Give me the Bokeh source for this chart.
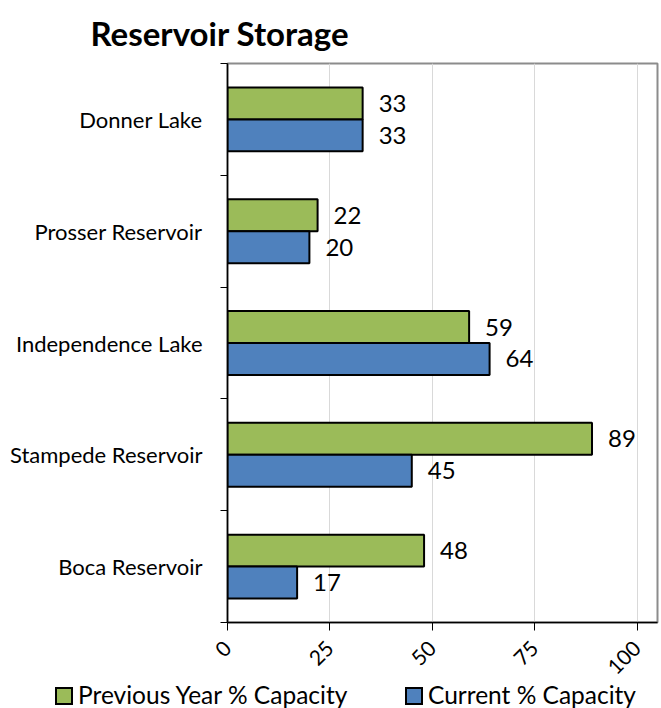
import math

from bokeh.core.properties import value
from bokeh.embed import file_html
from bokeh.layouts import column
from bokeh.models import (ColumnDataSource, Div, FixedTicker, LabelSet,
                          Range1d)
from bokeh.plotting import figure
from bokeh.resources import INLINE

# Reservoirs listed bottom to top
reservoirs = ["Boca Reservoir", "Stampede Reservoir", "Independence Lake",
              "Prosser Reservoir", "Donner Lake"]
previous_year = [48, 89, 59, 22, 33]
current = [17, 45, 64, 20, 33]
x_ticks = [0, 25, 50, 75, 100]
series_names = ["Previous Year % Capacity", "Current % Capacity"]

FONT = "Lato"
GREEN = "#9BBB59"
BLUE = "#4F81BD"
BAR_H = 0.286

slot = [i + 0.5 for i in range(len(reservoirs))]
src = ColumnDataSource(dict(
    y_prev=[s + BAR_H / 2 for s in slot],
    y_cur=[s - BAR_H / 2 for s in slot],
    prev=previous_year,
    cur=current,
    prev_txt=[str(v) for v in previous_year],
    cur_txt=[str(v) for v in current],
))

p = figure(width=661, height=684, output_backend="svg", toolbar_location=None,
           x_range=Range1d(0, 105), y_range=Range1d(0, len(reservoirs)),
           min_border_left=227, min_border_right=4, min_border_top=62,
           min_border_bottom=62)
p.background_fill_color = "white"
p.border_fill_color = "white"
p.outline_line_color = "#8C8C8C"
p.outline_line_width = 2

# Title
p.title.text = "Reservoir Storage"
p.title.text_font = FONT
p.title.text_font_style = "bold"
p.title.text_font_size = "33px"
p.title.align = "left"
p.title.offset = -137
p.title.standoff = 21
p.title.text_color = "black"

# Bars
p.hbar(y="y_prev", left=0, right="prev", height=BAR_H, source=src,
       fill_color=GREEN, line_color="black", line_width=2)
p.hbar(y="y_cur", left=0, right="cur", height=BAR_H, source=src,
       fill_color=BLUE, line_color="black", line_width=2)

# Value labels at bar ends
for xcol, ycol, tcol in (("prev", "y_prev", "prev_txt"), ("cur", "y_cur", "cur_txt")):
    p.add_layout(LabelSet(x=xcol, y=ycol, text=tcol, source=src, x_offset=16,
                          text_baseline="middle", text_font=value(FONT),
                          text_font_size="24px", text_color="black"))

# Grid
p.ygrid.grid_line_color = None
p.xgrid.ticker = FixedTicker(ticks=x_ticks[1:])
p.xgrid.grid_line_color = "#D9D9D9"
p.xgrid.grid_line_width = 1

# X axis
xa = p.xaxis[0]
xa.ticker = FixedTicker(ticks=x_ticks)
xa.axis_line_color = "black"
xa.axis_line_width = 1.5
xa.major_tick_in = 0
xa.major_tick_out = 8
xa.major_tick_line_color = "black"
xa.minor_tick_line_color = None
xa.major_label_orientation = math.pi / 4
xa.major_label_text_font = FONT
xa.major_label_text_font_size = "21px"
xa.major_label_text_color = "black"
xa.major_label_standoff = 14

# Y axis: names at slot centres, tick marks at slot boundaries
ya = p.yaxis[0]
ya.ticker = FixedTicker(ticks=slot, minor_ticks=list(range(len(reservoirs) + 1)))
ya.major_label_overrides = {s: name for s, name in zip(slot, reservoirs)}
ya.axis_line_color = "black"
ya.axis_line_width = 1.5
ya.major_tick_line_color = None
ya.major_tick_in = 0
ya.major_tick_out = 0
ya.minor_tick_in = 0
ya.minor_tick_out = 7
ya.minor_tick_line_color = "black"
ya.major_label_text_font = FONT
ya.major_label_text_font_size = "22px"
ya.major_label_text_color = "black"
ya.major_label_standoff = 18

# Legend strip under the chart
def key(left, color, label):
    return (f'<div style="position:absolute;left:{left}px;top:3px;width:18px;height:18px;'
            f'box-sizing:border-box;border:2px solid black;background:{color};"></div>'
            f'<div style="position:absolute;left:{left + 23}px;top:-1px;line-height:24px;'
            f'white-space:nowrap;">{label}</div>')

legend_html = (f'<div style="position:relative;width:661px;height:24px;font-family:{FONT};'
               f'font-size:24.5px;color:black;">'
               + key(55, GREEN, series_names[0]) + key(405, BLUE, series_names[1])
               + '</div>')
legend = Div(text=legend_html, width=661, height=24, margin=0)

layout = column(p, legend, spacing=0)
open("out.html", "w").write(file_html(layout, INLINE))
